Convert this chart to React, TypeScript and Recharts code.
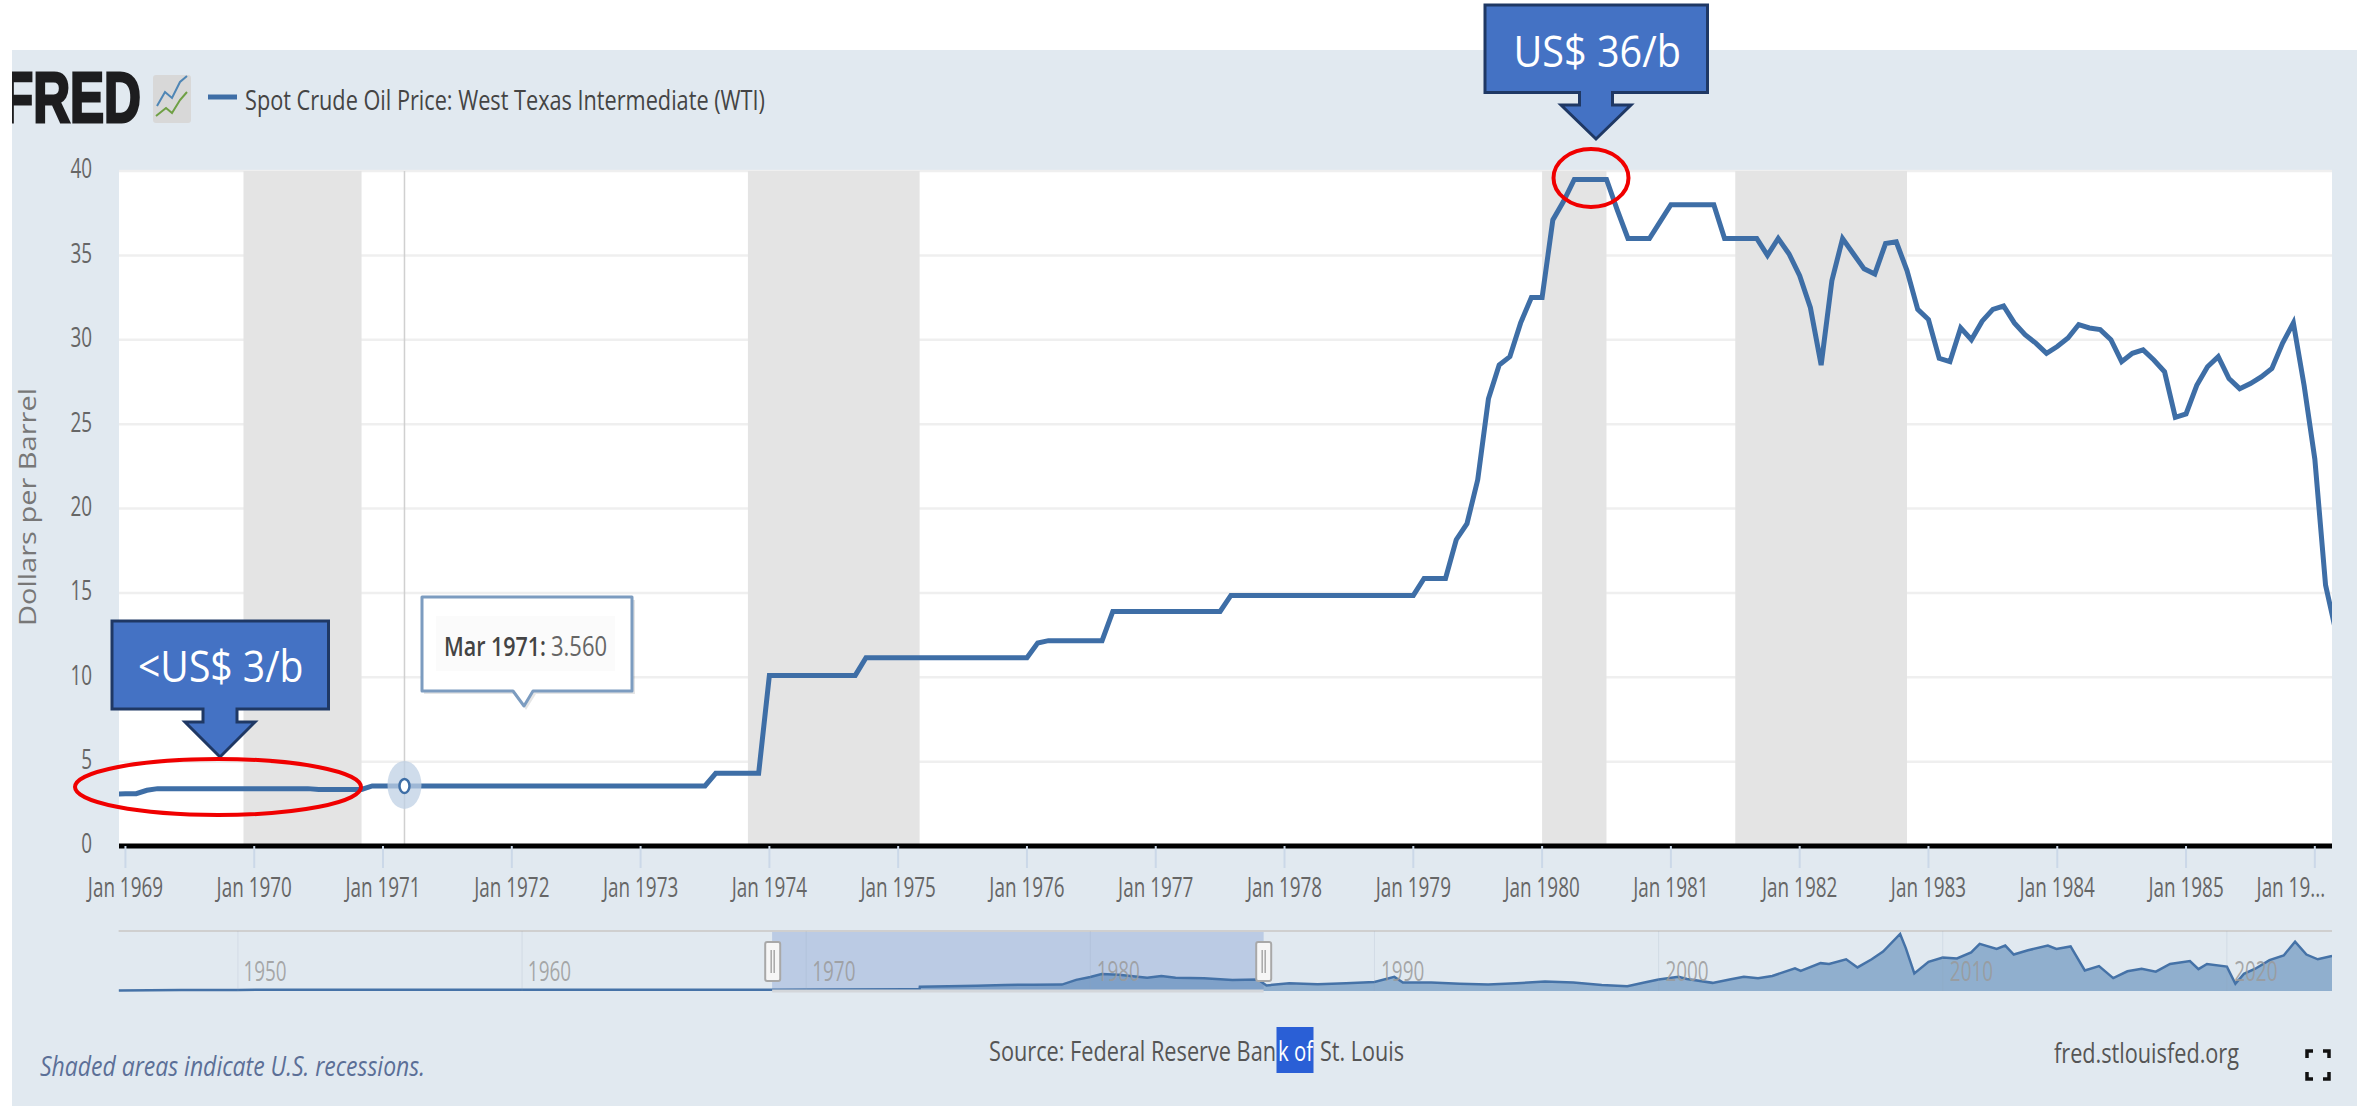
import React from "react";
import { ComposedChart, AreaChart, Area, Line, XAxis, YAxis, CartesianGrid, ReferenceArea, ReferenceLine, ReferenceDot } from "recharts";

// Monthly spot price from Dec 1968 onward
const prices = [
  3.07,
  3.10, 3.10, 3.30, 3.40, 3.40, 3.40, 3.40, 3.40, 3.40, 3.40, 3.40, 3.40,
  3.40, 3.40, 3.40, 3.40, 3.40, 3.40, 3.35, 3.35, 3.35, 3.35, 3.35, 3.56,
  3.56, 3.56, 3.56, 3.56, 3.56, 3.56, 3.56, 3.56, 3.56, 3.56, 3.56, 3.56,
  3.56, 3.56, 3.56, 3.56, 3.56, 3.56, 3.56, 3.56, 3.56, 3.56, 3.56, 3.56,
  3.56, 3.56, 3.56, 3.56, 3.56, 3.56, 3.56, 4.31, 4.31, 4.31, 4.31, 4.31,
  10.11, 10.11, 10.11, 10.11, 10.11, 10.11, 10.11, 10.11, 10.11, 11.16, 11.16, 11.16,
  11.16, 11.16, 11.16, 11.16, 11.16, 11.16, 11.16, 11.16, 11.16, 11.16, 11.16, 11.16,
  11.16, 12.03, 12.17, 12.17, 12.17, 12.17, 12.17, 12.17, 13.90, 13.90, 13.90, 13.90,
  13.90, 13.90, 13.90, 13.90, 13.90, 13.90, 13.90, 14.85, 14.85, 14.85, 14.85, 14.85,
  14.85, 14.85, 14.85, 14.85, 14.85, 14.85, 14.85, 14.85, 14.85, 14.85, 14.85, 14.85,
  14.85, 15.85, 15.85, 15.85, 18.15, 19.10, 21.70, 26.50, 28.50, 29.00, 31.00, 32.50,
  32.50, 37.10, 38.20, 39.50, 39.50, 39.50, 39.50, 37.70, 36.00, 36.00, 36.00, 37.00,
  38.00, 38.00, 38.00, 38.00, 38.00, 36.00, 36.00, 36.00, 36.00, 35.00, 36.00, 35.10,
  33.80, 31.90, 28.50, 33.50, 36.00, 35.10, 34.20, 33.90, 35.70, 35.80, 34.10, 31.80,
  31.20, 28.90, 28.70, 30.70, 30.00, 31.10, 31.80, 32.00, 31.00, 30.30, 29.80, 29.20,
  29.60, 30.10, 30.90, 30.70, 30.60, 30.00, 28.70, 29.20, 29.40, 28.80, 28.10, 25.40,
  25.60, 27.30, 28.40, 29.00, 27.70, 27.10, 27.40, 27.80, 28.30, 29.80, 31.00, 27.30,
  22.93, 15.46, 12.61,
];
const recessions = [[11, 22], [58, 74], [132, 138], [150, 166]];
const yTicks = [0, 5, 10, 15, 20, 25, 30, 35, 40];
const tickYears = [1969, 1970, 1971, 1972, 1973, 1974, 1975, 1976, 1977, 1978, 1979, 1980, 1981, 1982, 1983, 1984, 1985, 1986];
const hoverMonth = 26;
const hoverPrice = 3.56;

// Navigator (full history)
const navYears = [1945.8, 1948, 1950, 1957, 1968, 1969, 1971, 1973.6, 1973.99, 1974, 1975, 1976, 1977, 1978, 1979, 1979.5, 1980, 1980.4, 1981, 1982, 1982.5, 1983, 1984, 1985, 1985.9, 1986.2, 1987, 1988, 1989, 1990, 1990.7, 1991, 1992, 1993, 1994, 1995, 1996, 1997, 1998, 1998.9, 1999.5, 2000, 2000.7, 2001, 2001.9, 2002.5, 2003, 2003.5, 2004, 2004.8, 2005, 2005.7, 2006, 2006.6, 2007, 2007.5, 2007.9, 2008.5, 2008.7, 2009, 2009.5, 2010, 2010.5, 2011, 2011.3, 2011.9, 2012.2, 2012.5, 2013, 2013.7, 2014, 2014.5, 2015, 2015.5, 2016, 2016.5, 2017, 2017.5, 2018, 2018.7, 2019, 2019.3, 2020, 2020.3, 2020.6, 2021, 2021.5, 2022, 2022.4, 2022.8, 2023.2, 2023.7];
const navValues = [1.17, 2.5, 2.6, 3.0, 3.07, 3.1, 3.56, 4.3, 4.3, 10.1, 11.2, 12.2, 14, 14.85, 15, 26, 32.5, 39.5, 38, 31, 35, 31, 30, 25.6, 27, 13, 18, 16, 18, 21, 33, 20, 20, 17, 15, 18, 22, 20, 14, 11, 20, 27, 33, 28, 19, 27, 33, 30, 35, 53, 47, 65, 63, 74, 55, 74, 92, 133, 100, 41, 68, 78, 76, 90, 110, 98, 106, 85, 95, 106, 98, 104, 48, 58, 30, 46, 52, 45, 63, 70, 51, 63, 57, 17, 40, 52, 72, 83, 115, 85, 74, 82];
const navDecades = [1950, 1960, 1970, 1980, 1990, 2000, 2010, 2020];
const navSelection = [1968.8, 1986.1];

const legendName = "Spot Crude Oil Price: West Texas Intermediate (WTI)";

const rows = prices.map((p, i) => ({ x: i - 1, price: p }));
const navRows = navYears.map((y, i) => ({ year: y, value: navValues[i] }));
const xTicks = tickYears.map((y) => (y - 1969) * 12);

const FONT = "'Open Sans', sans-serif";
const BLUE = "#3E6EA6";

function Squeezed({ x, y, text, size, fill, anchor = "middle", sx = 0.7, weight, opacity }: any) {
  return (
    <g transform={`translate(${x} ${y}) scale(${sx} 1)`}>
      <text x={0} y={0} textAnchor={anchor} dominantBaseline="central" fontFamily={FONT} fontSize={size} fill={fill} fillOpacity={opacity} fontWeight={weight}>{text}</text>
    </g>
  );
}

function Fit({ x1, x2, y, text, size, fill, weight, italic, family = FONT, stroke, strokeWidth }: any) {
  return (
    <text x={x1} y={y} textLength={x2 - x1} lengthAdjust="spacingAndGlyphs" dominantBaseline="central" fontFamily={family} fontSize={size} fill={fill} fontWeight={weight} fontStyle={italic ? "italic" : undefined} stroke={stroke} strokeWidth={strokeWidth}>{text}</text>
  );
}

function XTick({ x, payload }: any) {
  const year = tickYears[xTicks.indexOf(payload.value)];
  const clipped = year === 1986;
  return <Squeezed x={clipped ? x - 24 : x} y={887} text={clipped ? "Jan 19..." : `Jan ${year}`} size={27} fill="#666" />;
}

function YTick({ y, payload }: any) {
  return <Squeezed x={92} y={y - 3} text={String(payload.value)} size={27} fill="#666" anchor="end" />;
}

function HoverMark({ cx, cy }: any) {
  return (
    <g>
      <ellipse cx={cx} cy={cy - 1} rx={17} ry={24} fill="#BFD0E4" fillOpacity={0.75} />
      <ellipse cx={cx} cy={cy} rx={5} ry={7} fill="#fff" stroke={BLUE} strokeWidth={2.5} />
    </g>
  );
}

function Handle({ cx }: any) {
  return (
    <g>
      <rect x={cx - 7.5} y={942} width={15} height={39} rx={2} fill="#F6F6F6" stroke="#A8A8A8" strokeWidth={2} />
      <line x1={cx - 1.5} x2={cx - 1.5} y1={950} y2={973} stroke="#A8A8A8" strokeWidth={1.5} />
      <line x1={cx + 1.5} x2={cx + 1.5} y1={950} y2={973} stroke="#A8A8A8" strokeWidth={1.5} />
    </g>
  );
}

function Callout({ d, text, x1, x2, y }: any) {
  return (
    <g>
      <path d={d} fill="#4472C4" stroke="#1F3864" strokeWidth={3} strokeLinejoin="miter" />
      <Fit x1={x1} x2={x2} y={y} text={text} size={44} fill="#fff" />
    </g>
  );
}

export default function App() {
  return (
    <div style={{ position: "absolute", left: 0, top: 0, width: 2364, height: 1106, background: "#fff", overflow: "hidden" }}>
      <div style={{ position: "absolute", left: 12, top: 50, width: 2345, height: 1056, background: "#E1E9F0" }} />
      <div style={{ position: "absolute", left: 0, top: 0 }}>
        <ComposedChart width={2364} height={1106} data={rows} margin={{ top: 171, right: 32, left: 0, bottom: 0 }}>
          <CartesianGrid vertical={false} fill="#fff" stroke="#EFEFEF" strokeWidth={2.5} />
          <XAxis
            dataKey="x"
            type="number"
            domain={[-0.6, 205.6]}
            allowDataOverflow
            ticks={xTicks}
            interval={0}
            height={260}
            tick={<XTick />}
            tickSize={22}
            tickLine={{ stroke: "#CBD8E8", strokeWidth: 2 }}
            axisLine={{ stroke: "#000", strokeWidth: 5 }}
          />
          <YAxis width={119} domain={[0, 40]} ticks={yTicks} interval={0} axisLine={false} tickLine={false} tick={<YTick />} />
          {recessions.map(([a, b]) => (
            <ReferenceArea key={a} x1={a} x2={b} y1={0} y2={40} fill="#E4E4E4" fillOpacity={1} stroke="none" />
          ))}
          <ReferenceLine x={hoverMonth} stroke="#D0D0D0" strokeWidth={1.5} />
          <Line dataKey="price" name={legendName} stroke={BLUE} strokeWidth={5} dot={false} isAnimationActive={false} />
          <ReferenceDot x={hoverMonth} y={hoverPrice} shape={<HoverMark />} />
        </ComposedChart>
      </div>
      <div style={{ position: "absolute", left: 0, top: 930 }}>
        <AreaChart width={2364} height={64} data={navRows} margin={{ top: 1, right: 32, left: 118.6, bottom: 0 }}>
          <XAxis dataKey="year" type="number" domain={[1945.8, 2023.7]} allowDataOverflow ticks={navDecades} interval={0} height={3} tick={false} tickLine={false} axisLine={false} />
          <YAxis hide domain={[0, 140]} />
          <ReferenceLine y={140} stroke="#CFCFCF" strokeWidth={2} />
          <ReferenceArea x1={navSelection[0]} x2={navSelection[1]} y1={0} y2={140} fill="#BBCBE4" fillOpacity={1} stroke="none" />
          {navDecades.map((y) => (
            <ReferenceLine key={y} x={y} stroke="#8FA0B8" strokeOpacity={0.18} strokeWidth={1} />
          ))}
          <ReferenceLine segment={[{ x: navSelection[0], y: 0 }, { x: navSelection[1], y: 0 }]} stroke="#D3D6DA" strokeWidth={3} />
          <Area dataKey="value" stroke="#4572A7" strokeWidth={2.5} fill="#4F7FB2" fillOpacity={0.55} isAnimationActive={false} />
        </AreaChart>
      </div>
      <svg width={2364} height={1106} style={{ position: "absolute", left: 0, top: 0, pointerEvents: "none" }}>
        <defs>
          <clipPath id="logoClip"><rect x={12} y={60} width={140} height={70} /></clipPath>
        </defs>
        <g clipPath="url(#logoClip)">
          <Fit x1={2} x2={141} y={98} text="FRED" size={70} fill="#1D1D1F" stroke="#1D1D1F" strokeWidth={3} weight={700} family="'Liberation Sans', sans-serif" />
        </g>
        <rect x={153} y={75} width={38} height={48} rx={3} fill="#D8D8D8" />
        <polyline points="157,106 165,92 172,98 180,82 187,76" fill="none" stroke="#4F86B5" strokeWidth={2} />
        <polyline points="156,116 166,108 172,113 180,100 187,92" fill="none" stroke="#6FA045" strokeWidth={2} />

        <line x1={208} x2={237} y1={97} y2={97} stroke={BLUE} strokeWidth={5} />
        <Fit x1={245} x2={765} y={99} text={legendName} size={28} fill="#444" />

        <g transform="translate(27 507) rotate(-90)">
          <text x={-119} y={0} textLength={238} lengthAdjust="spacingAndGlyphs" dominantBaseline="central" fontFamily={FONT} fontSize={23} fill="#777">Dollars per Barrel</text>
        </g>

        <path d="M424 600 H635 V694 H536 L526 710 L516 694 H424 Z" fill="#000" fillOpacity={0.1} />
        <path d="M422 597 H632 V691 H533 L524 706 L513 691 H422 Z" fill="#fff" stroke="#7C9CC0" strokeWidth={3} strokeLinejoin="round" />
        <rect x={436} y={616} width={179} height={55} fill="#FBFBFB" />
        <Fit x1={444} x2={546} y={645} text="Mar 1971:" size={27} fill="#444" weight={600} />
        <Fit x1={551} x2={607} y={645} text="3.560" size={27} fill="#666" />

        <Callout d="M112 621 H328.5 V709 H237 V722 H255 L220 757 L185 722 H203 V709 H112 Z" text="<US$ 3/b" x1={138} x2={303.5} y={665} />
        <Callout d="M1485 5 H1707.5 V92.5 H1612.5 V105 H1631 L1596 139 L1561 105 H1579.5 V92.5 H1485 Z" text="US$ 36/b" x1={1513.5} x2={1681} y={50} />
        <ellipse cx={218} cy={787} rx={143} ry={28} fill="none" stroke="#F00000" strokeWidth={4} />
        <ellipse cx={1591} cy={178} rx={37.5} ry={29} fill="none" stroke="#F00000" strokeWidth={4} />

        {navDecades.map((y) => (
          <Squeezed key={y} x={118.6 + (y - 1945.8) * 28.44 + 27} y={971} text={String(y)} size={27} fill="#9A9A9A" opacity={0.85} />
        ))}
        <Handle cx={772.7} />
        <Handle cx={1263.7} />

        <Fit x1={40} x2={425} y={1065} text="Shaded areas indicate U.S. recessions." size={28} fill="#5B6F97" italic />
        <Fit x1={989} x2={1276} y={1050} text="Source: Federal Reserve Ban" size={28} fill="#555" />
        <rect x={1276.5} y={1027} width={37} height={46} fill="#2A5FD6" />
        <Fit x1={1278} x2={1313} y={1050} text="k of" size={28} fill="#fff" />
        <Fit x1={1320} x2={1404} y={1050} text="St. Louis" size={28} fill="#555" />
        <Fit x1={2054} x2={2239} y={1052} text="fred.stlouisfed.org" size={28} fill="#555" />
        <path d="M2307 1058 V1051 H2313 M2323 1051 H2329 V1058 M2329 1072 V1079 H2323 M2313 1079 H2307 V1072" fill="none" stroke="#111" strokeWidth={3.5} />
      </svg>
    </div>
  );
}
